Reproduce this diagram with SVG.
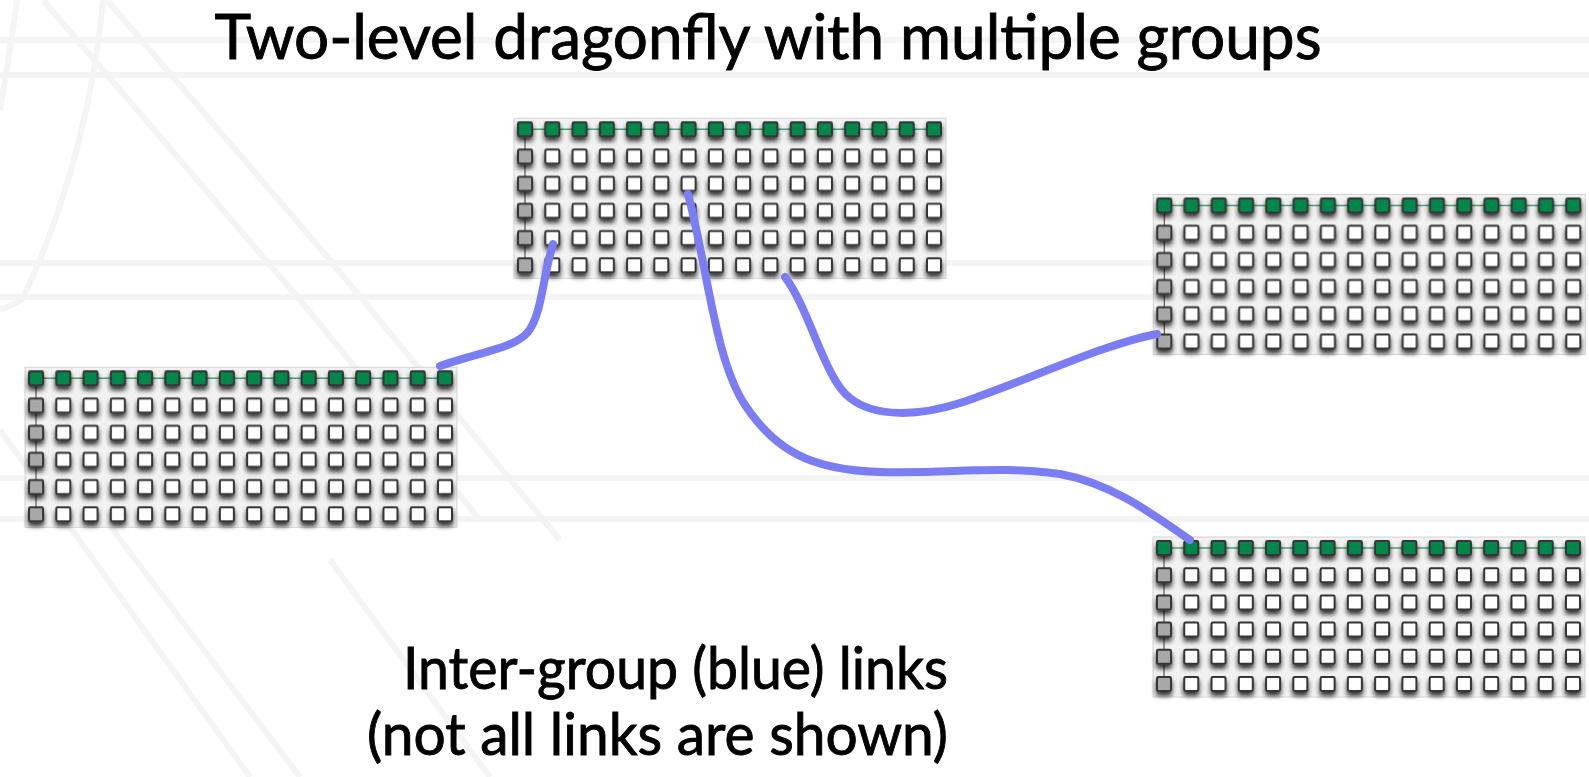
<svg xmlns="http://www.w3.org/2000/svg" xmlns:xlink="http://www.w3.org/1999/xlink" width="1589" height="777" viewBox="0 0 1589 777">
  <style>
    .bgline { fill: none; stroke: #f4f4f4; stroke-width: 6; }
    .box { fill: #f2f2f2; stroke: #d4d4d4; stroke-width: 1; }
    .cell { stroke: #353535; stroke-width: 2; }
    .router { fill: #00874a; }
    .gray { fill: #a8a8a8; }
    .node { fill: #ffffff; }
    .hlink { stroke: #4aa57a; stroke-width: 1.5; }
    .vlink { stroke: #555555; stroke-width: 1.2; }
    .link { fill: none; stroke: #7b7df5; stroke-width: 8; stroke-linecap: round; }
    .label { font-family: "Lato", "Liberation Sans", sans-serif; fill: #000; stroke: #000; stroke-width: 0.9; }
  </style>
  <defs>
    <filter id="shadow" x="-20%" y="-20%" width="140%" height="140%">
      <feGaussianBlur in="SourceAlpha" stdDeviation="2.6"/>
      <feOffset dx="0" dy="3.5" result="off"/>
      <feComponentTransfer><feFuncA type="linear" slope="0.8"/></feComponentTransfer>
      <feMerge><feMergeNode/><feMergeNode in="SourceGraphic"/></feMerge>
    </filter>
    <rect id="sq" x="-7" y="-7" width="14" height="14" rx="1.4"/>
    <!-- row of 15 plain nodes, starting at column 1 -->
    <g id="nodeRow" class="cell node">
      <use href="#sq" x="27.27"/><use href="#sq" x="54.53"/><use href="#sq" x="81.8"/>
      <use href="#sq" x="109.07"/><use href="#sq" x="136.33"/><use href="#sq" x="163.6"/>
      <use href="#sq" x="190.87"/><use href="#sq" x="218.13"/><use href="#sq" x="245.4"/>
      <use href="#sq" x="272.67"/><use href="#sq" x="299.93"/><use href="#sq" x="327.2"/>
      <use href="#sq" x="354.47"/><use href="#sq" x="381.73"/><use href="#sq" x="409"/>
    </g>
    <!-- row of 16 routers -->
    <g id="routerRow" class="cell router">
      <use href="#sq" x="0"/>
      <use href="#sq" x="27.27"/><use href="#sq" x="54.53"/><use href="#sq" x="81.8"/>
      <use href="#sq" x="109.07"/><use href="#sq" x="136.33"/><use href="#sq" x="163.6"/>
      <use href="#sq" x="190.87"/><use href="#sq" x="218.13"/><use href="#sq" x="245.4"/>
      <use href="#sq" x="272.67"/><use href="#sq" x="299.93"/><use href="#sq" x="327.2"/>
      <use href="#sq" x="354.47"/><use href="#sq" x="381.73"/><use href="#sq" x="409"/>
    </g>
    <!-- one dragonfly group: 16 x 6 grid -->
    <g id="dfGroup">
      <rect class="box" x="-11" y="-11" width="432" height="160"/>
      <line class="vlink" x1="0" y1="0" x2="0" y2="136"/>
      <line class="hlink" x1="0" y1="0" x2="409" y2="0"/>
      <g filter="url(#shadow)">
        <use href="#routerRow"/>
        <g class="cell gray">
          <use href="#sq" y="27.2"/><use href="#sq" y="54.4"/><use href="#sq" y="81.6"/>
          <use href="#sq" y="108.8"/><use href="#sq" y="136"/>
        </g>
        <use href="#nodeRow" y="27.2"/>
        <use href="#nodeRow" y="54.4"/>
        <use href="#nodeRow" y="81.6"/>
        <use href="#nodeRow" y="108.8"/>
        <use href="#nodeRow" y="136"/>
      </g>
    </g>
  </defs>

  <rect width="1589" height="777" fill="#ffffff"/>

  <!-- faint template lines in the background -->
  <g id="background">
    <line class="bgline" x1="0" y1="40" x2="1589" y2="40"/>
    <line class="bgline" x1="0" y1="75" x2="1589" y2="75"/>
    <line class="bgline" x1="0" y1="263" x2="1589" y2="263"/>
    <line class="bgline" x1="0" y1="297" x2="1589" y2="297"/>
    <line class="bgline" x1="0" y1="478" x2="1589" y2="478"/>
    <line class="bgline" x1="0" y1="519" x2="1589" y2="519"/>
    <path class="bgline" d="M103,0 C95,90 70,200 22,300 L0,310"/>
    <path class="bgline" d="M17,0 C12,40 5,80 0,110"/>
    <path class="bgline" d="M43,0 L300,300 L480,520"/>
    <path class="bgline" d="M107,0 L330,260 L560,540"/>
    <path class="bgline" d="M0,430 L250,777"/>
    <path class="bgline" d="M60,460 L300,777"/>
    <path class="bgline" d="M330,560 L490,777"/>
  </g>

  <g id="group-left" transform="translate(36,378.3)"><use href="#dfGroup"/></g>
  <g id="group-top" transform="translate(525,129.3)"><use href="#dfGroup"/></g>
  <g id="group-right-top" transform="translate(1164.3,205.5)"><use href="#dfGroup"/></g>
  <g id="group-right-bottom" transform="translate(1164,548)"><use href="#dfGroup"/></g>

  <!-- global (inter-group) links -->
  <g id="links">
    <path class="link" d="M440,366 C480,352 515,348 528,332 C542,314 542,280 553,244"/>
    <path class="link" d="M688,194 C708,270 715,360 745,405 C775,450 810,470 880,472 C950,474 1000,465 1060,474 C1110,483 1150,512 1190,540"/>
    <path class="link" d="M785,277 C810,310 825,380 850,398 C875,418 920,416 960,403 C1030,380 1100,345 1157,334"/>
  </g>

  <text class="label" x="768" y="59" font-size="62" text-anchor="middle" textLength="1107" lengthAdjust="spacingAndGlyphs">Two-level dragonfly with multiple groups</text>
  <text class="label" x="948" y="689" font-size="58" text-anchor="end" textLength="545" lengthAdjust="spacingAndGlyphs">Inter-group (blue) links</text>
  <text class="label" x="948" y="755" font-size="58" text-anchor="end" textLength="581" lengthAdjust="spacingAndGlyphs">(not all links are shown)</text>
</svg>
